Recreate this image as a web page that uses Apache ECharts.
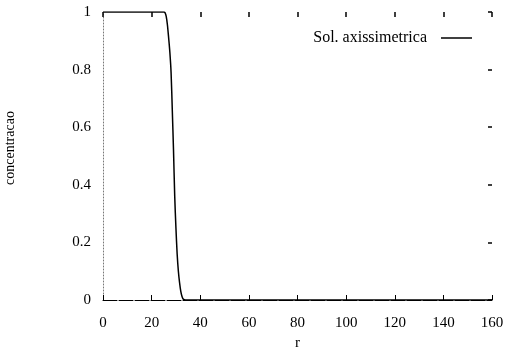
<!DOCTYPE html>
<html>
<head>
<meta charset="utf-8">
<script src="https://cdn.jsdelivr.net/npm/echarts@6/dist/echarts.min.js"></script>
<style>
html,body{margin:0;padding:0;background:#fff;}
#c{width:516px;height:354px;}
</style>
</head>
<body>
<div id="c"></div>
<script>
var rValues = [0, 5, 10, 15, 20, 24, 25, 25.5, 26, 26.5, 27, 27.5, 28, 28.5, 29, 29.5, 30, 30.5, 31, 31.5, 32, 32.5, 33, 34, 40, 60, 80, 100, 120, 140, 160];
var concValues = [1, 1, 1, 1, 1, 1, 1, 0.998, 0.985, 0.955, 0.91, 0.86, 0.79, 0.66, 0.52, 0.36, 0.25, 0.16, 0.1, 0.06, 0.03, 0.012, 0.003, 0, 0, 0, 0, 0, 0, 0, 0];
var seriesName = 'Sol. axissimetrica';
var xTitle = 'r';
var yTitle = 'concentracao';

var pts = rValues.map(function (r, i) { return [r, concValues[i]]; });
var font = 'Liberation Serif';
var chart = echarts.init(document.getElementById('c'));
chart.setOption({
  backgroundColor: '#fff',
  animation: false,
  grid: { left: 103, right: 24, top: 12, bottom: 54, outerBoundsMode: 'none', containLabel: false },
  legend: {
    right: 39, top: 25, align: 'right',
    icon: 'rect', itemWidth: 31, itemHeight: 1.5, itemGap: 0,
    textStyle: { fontFamily: font, fontSize: 16, color: '#000', padding: [0, 9, 0, 0] },
    data: [{ name: seriesName, itemStyle: { color: '#000' } }]
  },
  graphic: [{
    type: 'text', x: 10, y: 148, rotation: Math.PI / 2,
    style: { text: yTitle, fontFamily: font, fontSize: 14, fill: '#000', align: 'center', verticalAlign: 'middle' }
  }],
  xAxis: [{
    type: 'value', min: 0, max: 160, interval: 20, position: 'bottom',
    name: xTitle, nameLocation: 'middle', nameGap: 35,
    nameTextStyle: { fontFamily: font, fontSize: 15, color: '#000' },
    axisLine: { show: true, onZero: false, lineStyle: { color: '#000', width: 1, type: [14, 2] } },
    axisTick: { show: true, inside: true, length: 5, lineStyle: { color: '#000' } },
    axisLabel: { fontFamily: font, fontSize: 15, color: '#000', margin: 16 },
    splitLine: { show: false }
  }, {
    type: 'value', min: 0, max: 160, interval: 20, position: 'top',
    axisLine: { show: false, onZero: false },
    axisTick: { show: true, inside: true, length: 5, lineStyle: { color: '#000', width: 1.5 } },
    axisLabel: { show: false }, splitLine: { show: false }
  }],
  yAxis: [{
    type: 'value', min: 0, max: 1, interval: 0.2, position: 'left',
    axisLine: { show: true, onZero: false, lineStyle: { color: '#777', width: 1, type: [1, 2] } },
    axisTick: { show: false },
    axisLabel: { fontFamily: font, fontSize: 15, color: '#000', margin: 12 },
    splitLine: { show: false }
  }, {
    type: 'value', min: 0, max: 1, interval: 0.2, position: 'right',
    axisLine: { show: false, onZero: false },
    axisTick: { show: true, inside: true, length: 4, lineStyle: { color: '#000', width: 1.5 } },
    axisLabel: { show: false }, splitLine: { show: false }
  }],
  series: [{
    name: seriesName, type: 'line', data: pts, symbol: 'none', smooth: 0.3,
    lineStyle: { color: '#000', width: 1.5 },
    xAxisIndex: 0, yAxisIndex: 0
  }]
});
</script>
</body>
</html>
